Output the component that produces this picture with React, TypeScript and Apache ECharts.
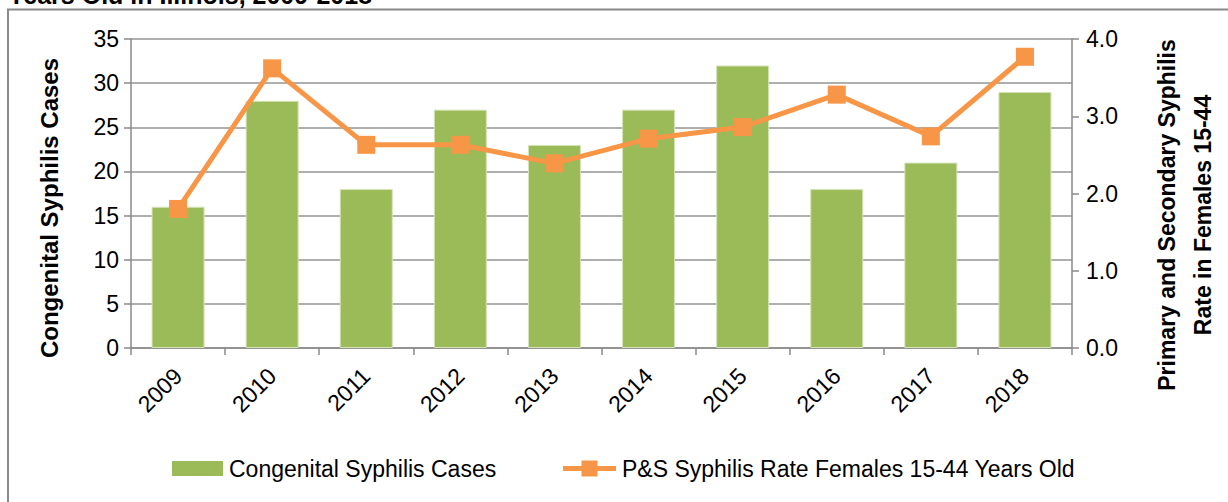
import React, { useEffect, useRef } from "react";
import * as echarts from "echarts";

const years = ["2009", "2010", "2011", "2012", "2013", "2014", "2015", "2016", "2017", "2018"];
const congenitalCases = [16, 28, 18, 27, 23, 27, 32, 18, 21, 29];
const psRate = [1.8, 3.62, 2.63, 2.63, 2.39, 2.71, 2.86, 3.28, 2.74, 3.77];
const leftTicks = { min: 0, max: 35, interval: 5 };
const rightTicks = { min: 0, max: 4, interval: 1 };
const seriesNames = ["Congenital Syphilis Cases", "P&S Syphilis Rate Females 15-44 Years Old"];

const FONT = "Liberation Sans";
const ORANGE = "#F79646";
const GREEN = "#9BBB59";

export default function App() {
  const ref = useRef<HTMLDivElement>(null);
  useEffect(() => {
    if (!ref.current) return;
    const chart = echarts.init(ref.current, undefined, { renderer: "svg" });
    const legendY = 468.5;
    chart.setOption({
      animation: false,
      backgroundColor: "#ffffff",
      textStyle: { fontFamily: FONT },
      grid: { left: 131, right: 156, top: 39, bottom: 154 },
      legend: { show: false },
      xAxis: {
        type: "category",
        data: years,
        axisLine: { lineStyle: { color: "#8a8a8a", width: 1.5 } },
        axisTick: { show: true, length: 7, lineStyle: { color: "#8a8a8a", width: 1.5 } },
        axisLabel: { rotate: 45, margin: 24, fontSize: 23, color: "#000", fontFamily: FONT },
      },
      yAxis: [
        {
          type: "value",
          position: "left",
          min: leftTicks.min,
          max: leftTicks.max,
          interval: leftTicks.interval,
          axisLine: { show: true, lineStyle: { color: "#8a8a8a", width: 1.5 } },
          axisTick: { show: true, length: 7, lineStyle: { color: "#8a8a8a", width: 1.5 } },
          axisLabel: { fontSize: 23, color: "#000", margin: 12, fontFamily: FONT },
          splitLine: { show: true, lineStyle: { color: "#959595", width: 1.5 } },
        },
        {
          type: "value",
          position: "right",
          min: rightTicks.min,
          max: rightTicks.max,
          interval: rightTicks.interval,
          axisLine: { show: true, lineStyle: { color: "#8a8a8a", width: 1.5 } },
          axisTick: { show: true, length: 7, lineStyle: { color: "#8a8a8a", width: 1.5 } },
          axisLabel: {
            fontSize: 23,
            color: "#000",
            margin: 14,
            fontFamily: FONT,
            formatter: (v: number) => v.toFixed(1),
          },
          splitLine: { show: false },
        },
      ],
      series: [
        {
          name: seriesNames[0],
          type: "bar",
          data: congenitalCases,
          yAxisIndex: 0,
          barWidth: 53,
          itemStyle: { color: GREEN, borderColor: "#d4e2b6", borderWidth: 1 },
          z: 2,
        },
        {
          name: seriesNames[1],
          type: "line",
          data: psRate,
          yAxisIndex: 1,
          symbol: "rect",
          symbolSize: 18,
          lineStyle: { color: ORANGE, width: 5 },
          itemStyle: { color: ORANGE },
          z: 3,
        },
      ],
      graphic: [
        {
          type: "rect",
          shape: { x: 8, y: 9.5, width: 1300, height: 600 },
          style: { fill: "none", stroke: "#898989", lineWidth: 2 },
          silent: true,
          z: -1,
        },
        {
          type: "text",
          x: 8,
          y: 7,
          style: {
            text: "Years Old in Illinois, 2009-2018",
            font: `bold 25px ${FONT}`,
            fill: "#000",
            align: "left",
            verticalAlign: "bottom",
          },
        },
        {
          type: "text",
          x: 49,
          y: 208,
          rotation: Math.PI / 2,
          style: {
            text: "Congenital Syphilis Cases",
            font: `bold 24px ${FONT}`,
            fill: "#000",
            align: "center",
            verticalAlign: "middle",
          },
        },
        {
          type: "text",
          x: 1185,
          y: 215,
          rotation: Math.PI / 2,
          style: {
            text: "Primary and Secondary Syphilis\nRate in Females 15-44",
            font: `bold 23px ${FONT}`,
            lineHeight: 36,
            fill: "#000",
            align: "center",
            verticalAlign: "middle",
          },
        },
        // Legend
        {
          type: "rect",
          shape: { x: 172, y: legendY - 7.5, width: 51, height: 15 },
          style: { fill: GREEN },
        },
        {
          type: "text",
          x: 229,
          y: legendY,
          style: {
            text: seriesNames[0],
            font: `23px ${FONT}`,
            fill: "#000",
            align: "left",
            verticalAlign: "middle",
          },
        },
        {
          type: "line",
          shape: { x1: 563, y1: legendY, x2: 616, y2: legendY },
          style: { stroke: ORANGE, lineWidth: 5 },
        },
        {
          type: "rect",
          shape: { x: 581.5, y: legendY - 8, width: 16, height: 16 },
          style: { fill: ORANGE },
        },
        {
          type: "text",
          x: 622,
          y: legendY,
          style: {
            text: seriesNames[1],
            font: `23px ${FONT}`,
            fill: "#000",
            align: "left",
            verticalAlign: "middle",
          },
        },
      ],
    });
    return () => chart.dispose();
  }, []);
  return (
    <div
      ref={ref}
      style={{ position: "absolute", left: 0, top: 0, width: 1228, height: 502 }}
    />
  );
}
